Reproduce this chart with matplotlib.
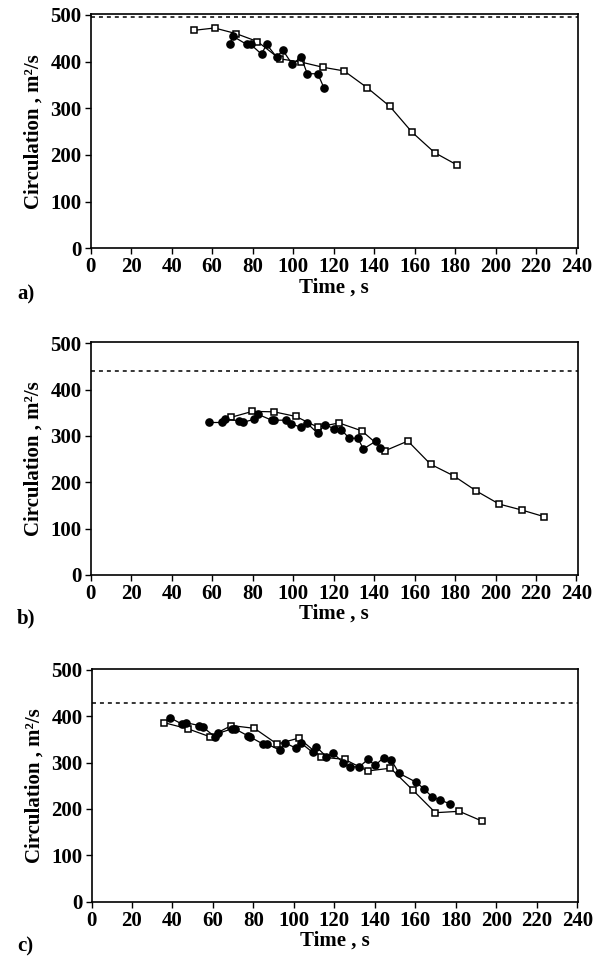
import matplotlib
matplotlib.use("Agg")
import matplotlib.pyplot as plt

plt.rcParams['font.family'] = ['Liberation Serif', 'DejaVu Serif']
plt.rcParams['font.weight'] = 'bold'

# panel a
a_sq_t = [51.0, 61.2, 71.8, 82.4, 93.3, 103.9, 114.6, 125.2, 136.6, 147.8, 158.7, 169.9, 181.2]
a_sq_c = [467, 472, 460, 443, 406, 399, 388, 380, 344, 304, 249, 205, 178]
a_dot_t = [68.6, 70.4, 77.0, 79.0, 84.4, 86.9, 91.8, 95.0, 99.6, 103.9, 107.0, 112.2, 115.2]
a_dot_c = [437, 454, 437, 437, 416, 437, 410, 424, 394, 410, 374, 374, 344]
a_ref = 495

# panel b
b_sq_t = [69.2, 79.9, 90.6, 101.4, 112.1, 122.7, 133.9, 145.4, 156.7, 167.9, 179.3, 190.6, 201.8, 213.1, 223.9]
b_sq_c = [340, 353, 352, 342, 319, 328, 311, 268, 289, 239, 214, 181, 153, 140, 126]
b_dot_t = [58.6, 64.7, 66.3, 73.2, 75.0, 80.8, 82.5, 89.4, 90.5, 96.3, 98.8, 103.9, 107.0,
           112.1, 115.8, 120.1, 123.9, 127.7, 132.0, 134.7, 141.0, 142.9]
b_dot_c = [329, 329, 336, 333, 329, 336, 347, 334, 334, 334, 326, 319, 327,
           306, 324, 316, 313, 295, 295, 272, 289, 275]
b_ref = 440

# panel c
c_sq_t = [36.0, 47.6, 58.4, 69.1, 80.5, 91.7, 102.4, 113.6, 125.1, 136.4, 147.7, 158.7, 169.9, 181.7, 192.9]
c_sq_c = [386, 373, 356, 380, 374, 340, 353, 312, 307, 282, 288, 241, 192, 195, 174]
c_dot_t = [38.7, 44.8, 46.8, 53.3, 55.2, 61.2, 62.4, 69.5, 70.8, 77.2, 78.5, 84.8, 86.8,
           93.0, 95.5, 101.1, 103.6, 109.3, 111.1, 116.0, 119.3, 124.3, 127.6, 132.4,
           136.5, 140.2, 144.3, 148.0, 152.0, 160.3, 164.1, 168.3, 172.3, 177.3]
c_dot_c = [397, 383, 386, 380, 376, 355, 363, 373, 373, 358, 355, 340, 340,
           327, 343, 331, 342, 322, 334, 313, 321, 300, 291, 291,
           307, 294, 311, 306, 277, 258, 244, 226, 219, 211]
c_ref = 428

x_ticks = list(range(0, 241, 20))
y_ticks = [0, 100, 200, 300, 400, 500]

panels = [
    ("a)", a_sq_t, a_sq_c, a_dot_t, a_dot_c, a_ref),
    ("b)", b_sq_t, b_sq_c, b_dot_t, b_dot_c, b_ref),
    ("c)", c_sq_t, c_sq_c, c_dot_t, c_dot_c, c_ref),
]

# axes boxes in pixels: (left, top, right, bottom) and panel-label baseline
boxes = [(90.7, 14.0, 577.5, 248.3, 299),
         (90.7, 342.3, 577.5, 575.0, 623),
         (91.5, 669.0, 578.3, 901.7, 951)]

W, H = 603, 956
fig = plt.figure(figsize=(W / 100, H / 100), dpi=100)

for (lab, sq_t, sq_c, dot_t, dot_c, ref), (l, t, r, b, lb) in zip(panels, boxes):
    ax = fig.add_axes([l / W, 1 - b / H, (r - l) / W, (b - t) / H])
    ax.axhline(ref, color='black', lw=1.1, ls=(0, (2.6, 2.6)))
    ax.plot(sq_t, sq_c, '-', color='black', lw=0.9, marker='s', ms=4.6,
            mfc='white', mec='black', mew=1.1, zorder=3)
    ax.plot(dot_t, dot_c, '-', color='black', lw=0.9, marker='o', ms=5.2,
            mfc='black', mec='black', zorder=4)
    ax.set_xlim(0, 240.5)
    ax.set_ylim(0, 502)
    ax.set_xticks(x_ticks)
    ax.set_yticks(y_ticks)
    ax.tick_params(direction='out', length=4.5, width=1.0, labelsize=15, pad=2)
    for s in ax.spines.values():
        s.set_linewidth(1.2)
    ax.set_xlabel('Time , s', fontsize=15, fontweight='bold', labelpad=0)
    ax.set_ylabel('Circulation , m²/s', fontsize=15, fontweight='bold', labelpad=5)
    fig.text(17 / W, 1 - lb / H, lab, fontsize=15, fontweight='bold', va='baseline')

fig.savefig('out.png', dpi=100)
